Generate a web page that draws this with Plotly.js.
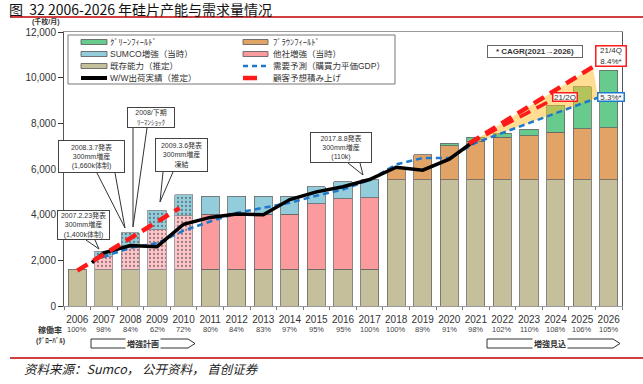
<!DOCTYPE html>
<html><head><meta charset="utf-8">
<script src="https://cdn.plot.ly/plotly-3.0.1.min.js"></script>
<style>html,body{margin:0;padding:0;background:#fff;}#chart{width:643px;height:384px;}</style>
</head><body><div id="chart"></div>
<script>
// ---------------- data ----------------
const years = [2006,2007,2008,2009,2010,2011,2012,2013,2014,2015,2016,2017,2018,2019,2020,2021,2022,2023,2024,2025,2026];
const yearLabels = years.map(String);
const utilization = ['100%','98%','84%','62%','72%','80%','84%','83%','97%','95%','95%','100%','100%','89%','91%','98%','102%','110%','108%','106%','105%'];
const plannedYears = [2007,2008,2009,2010];

const existingCap    = [1600,1600,1600,1600,1600,1600,1600,1600,1600,1600,1600,1600,5520,5520,5520,5520,5520,5520,5520,5520,5520];
const otherExpansion = [null,550,950,1770,2350,2420,2460,2420,2420,2880,3100,3140,null,null,null,null,null,null,null,null,null];
const sumcoExpansion = [null,250,650,830,930,780,740,780,780,750,750,800,null,null,null,null,null,null,null,null,null];
const brownfield     = [null,null,null,null,null,null,null,null,null,null,null,null,520,1100,1500,1700,1860,1930,2100,2250,2280];
const greenfield     = [null,null,null,null,null,null,null,null,null,null,null,null,null,null,100,180,190,300,1180,1840,2520];

const shipX = [2006.55,2007,2008,2009,2010,2011,2012,2013,2014,2015,2016,2017,2018,2019,2020,2021];
const shipY = [1900,2330,2650,2600,3580,3880,4030,4000,4660,5000,5220,5540,6080,5950,6430,7280];

const demandX = [2006.6,2007,2008,2009,2010,2011,2012,2013,2014,2015,2016,2017,2018,2019,2020,2021,2022,2023,2024,2025,2025.6];
const demandY = [2000,2150,2550,2750,3300,3700,4080,4300,4520,4830,5100,5520,6200,6480,6480,7150,7580,8010,8450,8880,9130];

const custEarlyX = [2006,2007,2008,2009,2009.85];
const custEarlyY = [1550,2250,2950,3670,4290];
const cust4QX = [2020.75,2021,2022,2023,2024,2025,2025.4];
const cust4QY = [7120,7300,8020,8740,9460,10180,10470];
const cust2QX = [2020.75,2021,2022,2023,2023.86];
const cust2QY = [7120,7270,7880,8490,9020];

const legendLabels = ['ｸﾞﾘｰﾝﾌｨｰﾙﾄﾞ','ﾌﾞﾗｳﾝﾌｨｰﾙﾄﾞ','SUMCO増強（当時）','他社増強（当時）','既存能力（推定）','需要予測（購買力平価GDP）','W/W出荷実績（推定）','顧客予想積み上げ'];

// ---------------- styles ----------------
const C = {
  tan:'#c6bf9c', pink:'#fb9b9d', pinkPlan:'#ffc4ca', blue:'#93cddc', bluePlan:'#93cddc',
  orange:'#e2a466', green:'#66cb8d', outline:'#666', demand:'#1e78cc', red:'#ff1a1a', band:'rgba(255,190,40,0.5)'
};
const FONT = 'Liberation Sans, Arial, Noto Sans CJK JP, sans-serif';
const L=64,R=622,T=32,B=306;
const px = x => (x-L)/(R-L);
const py = y => (B-y)/(B-T);

const isPlan = years.map(y => plannedYears.includes(y));
const BW = 0.68;

function barTrace(vals, color, planColor, fg){
  const m = {
    color: years.map((y,i)=> isPlan[i] && planColor ? planColor : color),
    line:{color: years.map((y,i)=> isPlan[i] ? '#8a8a8a' : C.outline), width:0.8}
  };
  if(fg) m.pattern = {shape: isPlan.map(p=> p?'.':''), fillmode:'overlay', fgcolor: fg, fgopacity:0.55, size:4, solidity:0.25};
  return {type:'bar', x:years, y:vals, width:BW, showlegend:false, hoverinfo:'skip', marker:m};
}

const bandX = cust4QX.concat(demandX.filter(x=>x>=2021).reverse());
const bandY = cust4QY.concat(demandY.filter((y,i)=>demandX[i]>=2021).reverse());

const traces = [
  barTrace(existingCap, C.tan),
  barTrace(otherExpansion, C.pink, C.pinkPlan, '#e07f8c'),
  barTrace(sumcoExpansion, C.blue, C.bluePlan, '#4f9cb3'),
  barTrace(brownfield, C.orange),
  barTrace(greenfield, C.green),
  {type:'scatter', x:bandX, y:bandY, mode:'lines', fill:'toself', fillcolor:C.band, line:{width:0}, showlegend:false, hoverinfo:'skip'},
  {type:'scatter', x:demandX, y:demandY, mode:'lines', line:{color:C.demand, width:2.5, dash:'6px,4px'}, showlegend:false, hoverinfo:'skip'},
  {type:'scatter', x:shipX, y:shipY, mode:'lines', line:{color:'#000', width:3.5}, showlegend:false, hoverinfo:'skip'},
  {type:'scatter', x:custEarlyX, y:custEarlyY, mode:'lines', line:{color:C.red, width:4.5, dash:'12px,7px'}, showlegend:false, hoverinfo:'skip'},
  {type:'scatter', x:cust2QX, y:cust2QY, mode:'lines', line:{color:C.red, width:3.5, dash:'12px,7px'}, showlegend:false, hoverinfo:'skip'},
  {type:'scatter', x:cust4QX, y:cust4QY, mode:'lines', line:{color:C.red, width:4.5, dash:'12px,7px'}, showlegend:false, hoverinfo:'skip'}
];

// ---------------- decorations ----------------
const shapes = [];
const annotations = [];
function pline(x0,y0,x1,y1,color,width,dash){
  shapes.push({type:'line', xref:'paper', yref:'paper', x0:px(x0), y0:py(y0), x1:px(x1), y1:py(y1), line:{color, width, dash:dash||'solid'}, layer:'above'});
}
function prect(x0,y0,x1,y1,fill,lc,lw){
  shapes.push({type:'rect', xref:'paper', yref:'paper', x0:px(x0), y0:py(y0), x1:px(x1), y1:py(y1), fillcolor:fill, line:{color:lc, width:lw}, layer:'above'});
}
function ppath(pts,color,width,closed){
  const d = pts.map((p,i)=>(i?'L':'M')+px(p[0])+','+py(p[1])).join(' ')+(closed?' Z':'');
  shapes.push({type:'path', xref:'paper', yref:'paper', path:d, line:{color, width}, layer:'above'});
}
function ptext(x,y,text,size,opts){
  annotations.push(Object.assign({xref:'paper', yref:'paper', x:px(x), y:py(y), text, showarrow:false,
    font:{family:FONT, size, color:'#333'}, xanchor:'center', yanchor:'middle'}, opts||{}));
}
function box(x0,y0,x1,y1,text,size,border,bw){
  annotations.push({xref:'paper', yref:'paper', x:px((x0+x1)/2), y:py((y0+y1)/2), text, showarrow:false,
    font:{family:FONT, size, color:'#333'}, xanchor:'center', yanchor:'middle', align:'center',
    bgcolor:'#fff', bordercolor:border, borderwidth:bw, borderpad:0, width:(x1-x0)-2*bw, height:(y1-y0)-2*bw});
}

// title & rules
ptext(7,9,'图  32 2006-2026 年硅片产能与需求量情况',14,{xanchor:'left', font:{family:'Noto Sans CJK SC, sans-serif', size:14, color:'#111'}});
pline(10,17,643,17,'#c00000',1.5);
pline(10,358,643,358,'#c00000',1.5);
ptext(22,368,'<i>资料来源：Sumco， 公开资料， 首创证券</i>',12.5,{xanchor:'left', font:{family:'Noto Sans CJK SC, serif', size:12.5, color:'#222'}});
ptext(46,22,'<b>(千枚/月)</b>',7);

// legend
prect(68,35,395,84,'#fff','#777',1);
const rowsY=[42,54,66,78], colSymX=[[81,107],[243,268]], colTxtX=[108,271];
const legendKinds = [
  {k:'bar',c:C.green},{k:'bar',c:C.orange},{k:'bar',c:C.blue},{k:'bar',c:C.pink},
  {k:'bar',c:C.tan},{k:'line',c:C.demand,w:2.5,d:'5px,4px'},{k:'line',c:'#000',w:4},{k:'red'}
];
legendLabels.forEach((lab,i)=>{
  const col=i%2,row=Math.floor(i/2), y=rowsY[row], [sx0,sx1]=colSymX[col];
  const kd=legendKinds[i];
  if(kd.k==='bar') prect(sx0,y-2.5,sx1,y+2.5,kd.c,'#555',0.8);
  else if(kd.k==='line') pline(sx0,y,sx1,y,kd.c,kd.w,kd.d);
  else pline(sx0,y,sx0+14,y,C.red,4.5);
  ptext(colTxtX[col],y,lab,8.5,{xanchor:'left', font:{family:FONT,size:8.5,color:'#333'}});
});

// callouts
box(57,210,110,240,'2007.2.23発表<br>300mm増産<br>(1,400k体制)',7,'#444',1);
ppath([[86,240],[99,249],[95,240]],'#333',1);
box(58,140,125,173,'2008.3.7発表<br>300mm増産<br>(1,660k体制)',7,'#444',1);
ppath([[97,173],[125,228],[115,173]],'#333',1);
box(127,107,175,128,'2008/下期<br>ﾘｰﾏﾝｼｮｯｸ',7,'#444',1);
ppath([[133,128],[133,227],[147,128]],'#333',1);
box(155,138,208,172,'2009.3.6発表<br>300mm増産<br>凍結',7,'#444',1);
ppath([[163,172],[160,202],[173,172]],'#333',1);
box(310,132,372,163,'2017.8.8発表<br>300mm増産<br>(110k)',7,'#444',1);
ppath([[348,163],[363,175],[360,163]],'#333',1);
box(487,45,583,58,'<b>* CAGR(2021→2026)</b>',8,'#666',1);
box(595,45,627,67,'21/4Q<br>8.4%*',8,'#ff1a1a',1.5);
box(552,92,578,102,'21/2Q',8,'#ff1a1a',1.5);
box(597,92,625,102,'5.3%*',8,'#1e78cc',1.5);

// utilization row
ptext(50,330,'<b>稼働率</b>',8);
ptext(50,341,'<b>(ｸﾞﾛｰﾊﾞﾙ)</b>',7);
years.forEach((y,i)=>{
  annotations.push({xref:'x', yref:'paper', x:y, y:py(330), text:utilization[i], showarrow:false,
    font:{family:FONT,size:7.5,color:'#444'}, xanchor:'center', yanchor:'middle'});
});

// plan arrows
function planArrow(x0,x1,label,cx){
  ppath([[x0,339],[x1-7,339],[x1,343.5],[x1-7,348],[x0,348]],'#333',1,true);
  ptext(cx,343.5,'<b>'+label+'</b>',8,{bgcolor:'#fff', borderpad:1, font:{family:FONT,size:8,color:'#333'}});
}
planArrow(91,195,'増強計画',143);
planArrow(487,620,'増強見込',550);

const layout = {
  width:643, height:384, margin:{l:L, r:643-R, t:T, b:384-B},
  paper_bgcolor:'#fff', plot_bgcolor:'#fff', barmode:'stack', bargap:0, showlegend:false,
  font:{family:FONT, color:'#333'},
  xaxis:{range:[2005.5,2026.5], tickmode:'array', tickvals:years, ticktext:yearLabels, ticks:'outside', ticklen:4,
    tickcolor:'rgba(0,0,0,0)', showline:true, linecolor:'#999', linewidth:1, mirror:true, showgrid:false, zeroline:false,
    tickfont:{size:10, color:'#333'},
    minor:{tickmode:'linear', tick0:2005.5, dtick:1, ticks:'outside', ticklen:3, tickcolor:'#777', showgrid:false}},
  yaxis:{range:[0,12000], tickmode:'linear', tick0:0, dtick:2000, tickformat:',', ticks:'outside', ticklen:5, tickcolor:'#333',
    showline:true, linecolor:'#555', linewidth:1, mirror:true, showgrid:false, zeroline:false, tickfont:{size:10, color:'#333'}},
  shapes, annotations, hovermode:false
};
Plotly.newPlot('chart', traces, layout, {staticPlot:true, displayModeBar:false});
</script></body></html>
